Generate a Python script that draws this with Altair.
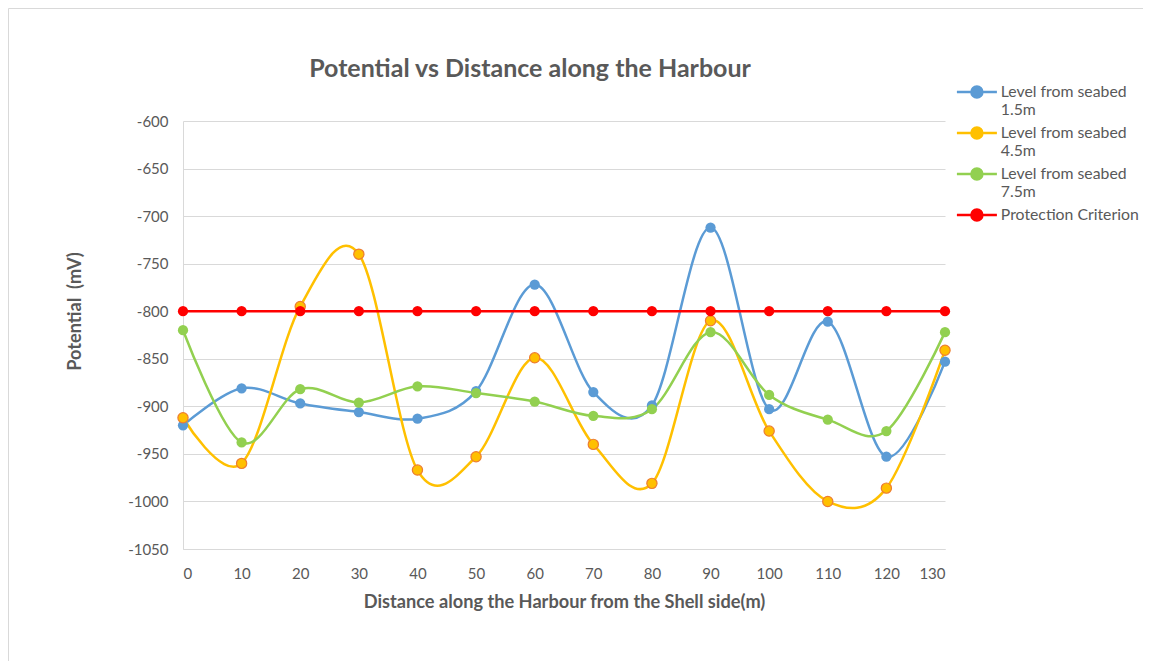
import altair as alt
import pandas as pd

distance = [0, 10, 20, 30, 40, 50, 60, 70, 80, 90, 100, 110, 120, 130]
level_1_5m = [-920, -881, -897, -906, -913, -884, -772, -885, -899, -712, -903, -811, -953, -853]
level_4_5m = [-912, -960, -795, -740, -967, -953, -849, -940, -981, -810, -926, -1000, -986, -841]
level_7_5m = [-820, -938, -882, -896, -879, -886, -895, -910, -903, -822, -888, -914, -926, -822]
criterion = [-800, -800, -800, -800, -800, -800, -800, -800, -800, -800, -800, -800, -800, -800]

series_names = ["Level from seabed 1.5m", "Level from seabed 4.5m",
                "Level from seabed 7.5m", "Protection Criterion"]
series_colors = ["#5B9BD5", "#FFC000", "#92D050", "#FF0000"]
y_ticks = [-1050, -1000, -950, -900, -850, -800, -750, -700, -650, -600]

rows = []
for name, vals in zip(series_names, [level_1_5m, level_4_5m, level_7_5m, criterion]):
    for d, v in zip(distance, vals):
        rows.append({"distance": d, "potential": v, "series": name})
df = pd.DataFrame(rows)

FONT = "Lato"
TXT = "#595959"

x_enc = alt.X("distance:Q",
              scale=alt.Scale(domain=[0, 130], nice=False, zero=False),
              axis=alt.Axis(values=distance, title="Distance along the Harbour from the Shell side(m)",
                            grid=False, ticks=False, tickSize=0, labelPadding=17,
                            titleX=381, titleY=53, titleBaseline="middle"))
y_enc = alt.Y("potential:Q",
              scale=alt.Scale(domain=[-1050, -600], nice=False, zero=False),
              axis=alt.Axis(values=y_ticks, title="Potential\u00a0 (mV)", ticks=False, tickSize=0,
                            labelExpr="'' + datum.value",
                            labelPadding=15, titleX=-108, titleY=190, titleBaseline="middle"))

legend = alt.Legend(
    title=None, orient="none", legendX=786, legendY=-44, padding=0,
    symbolType="M-20,7H20M5.5,7A5.5,5.5,0,1,1,-5.5,7A5.5,5.5,0,1,1,5.5,7Z",
    symbolSize=4, symbolStrokeWidth=2.5, labelOffset=16, labelBaseline="top",
    labelFont=FONT, labelFontSize=15.8, labelColor=TXT, labelLimit=300, rowPadding=0,
    labelExpr="indexof(datum.label, 'seabed') >= 0 ? ['Level from seabed', replace(datum.label, 'Level from seabed ', '')] : datum.label",
)

base = alt.Chart(df)
lines = base.mark_line(interpolate="cardinal", strokeWidth=2.5).encode(
    x=x_enc, y=y_enc,
    stroke=alt.Stroke("series:N", scale=alt.Scale(domain=series_names, range=series_colors), legend=legend),
)
points = base.mark_point(filled=True, size=105, opacity=1, stroke="#ED7D31").encode(
    x=x_enc, y=y_enc,
    fill=alt.Fill("series:N", scale=alt.Scale(domain=series_names, range=series_colors), legend=legend),
    strokeWidth=alt.condition(alt.datum.series == series_names[1], alt.value(1.2), alt.value(0)),
)
border = alt.Chart(alt.Data(values=[{"a": 1}])).mark_rect(
    fill="transparent", stroke="#D9D9D9", strokeWidth=1
).encode(x=alt.value(-174.5), y=alt.value(-112.5), x2=alt.value(1300), y2=alt.value(800))

chart = alt.layer(border, lines, points).properties(
    width=762, height=428,
    autosize=alt.AutoSizeParams(type="none"),
    padding={"left": 175, "top": 113, "right": 198, "bottom": 112},
    title=alt.TitleParams("Potential vs Distance along the Harbour", anchor="middle", frame="group",
                          baseline="alphabetic", offset=0, dx=-34, dy=94, fontSize=25, font=FONT,
                          fontWeight="bold", color=TXT),
).configure_view(stroke=None).configure_axis(
    labelFont=FONT, labelFontSize=15, labelColor=TXT,
    titleFont=FONT, titleFontSize=18.2, titleColor=TXT, titleFontWeight="bold",
    domainColor="#D9D9D9", gridColor="#D9D9D9", domainWidth=1, gridWidth=1,
).configure_axisX(domain=True).configure_axisY(domain=True)

chart.save("out.html", embed_options={"renderer": "svg", "actions": False})
